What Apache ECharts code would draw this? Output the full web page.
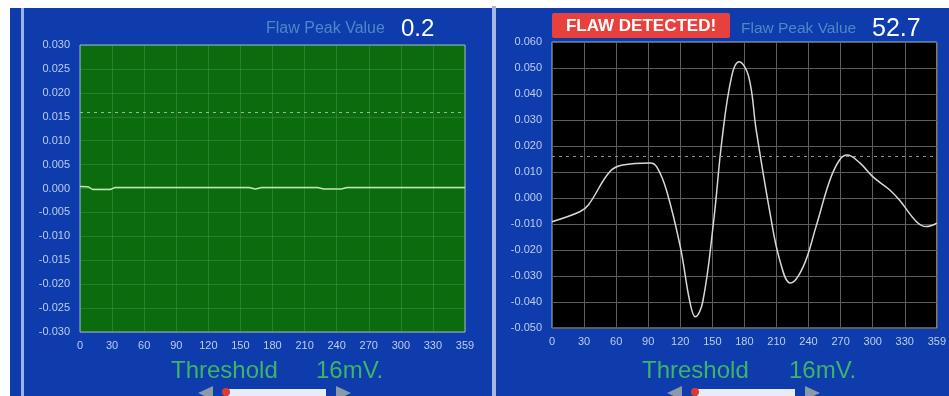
<!DOCTYPE html>
<html>
<head>
<meta charset="utf-8">
<script src="https://cdn.jsdelivr.net/npm/echarts@6/dist/echarts.min.js"></script>
<style>
  html, body { margin: 0; padding: 0; background: #fff; }
  #chart { width: 949px; height: 396px; }
</style>
</head>
<body>
<div id="chart"></div>
<script>
// angle ticks, 0..360 but the last one is printed as 359
const xTicks = [0, 30, 60, 90, 120, 150, 180, 210, 240, 270, 300, 330, 360]
const xTickLabels = ['0', '30', '60', '90', '120', '150', '180', '210', '240', '270', '300', '330', '359']

const threshold = 0.016
const leftPeak = '0.2'
const rightPeak = '52.7'

// left channel: flat trace with a few tiny dips
const leftX = [0, 8, 12, 28, 33, 158, 164, 170, 222, 228, 244, 250, 360]
const leftY = [0.0004, 0.0003, -0.0002, -0.0002, 0.0002, 0.0002, -0.0001, 0.0002, 0.0002, -0.0001, -0.0001, 0.0002, 0.0002]

// right channel: flaw signal
const rightX = [0, 26, 34, 54, 66, 92, 98, 107, 120, 129, 134, 141, 151, 159, 168, 175, 184, 191, 204, 213, 223, 235, 247, 260, 269, 276, 288, 300, 316, 325, 341, 350, 360]
const rightY = [-0.0091, -0.0053, -0.0027, 0.0101, 0.0127, 0.0135, 0.012, 0.0031, -0.0187, -0.040, -0.0457, -0.040, -0.0097, 0.0223, 0.0467, 0.0524, 0.0467, 0.0262, -0.0059, -0.0238, -0.0327, -0.0264, -0.011, 0.0069, 0.0146, 0.0165, 0.0135, 0.0082, 0.0031, -0.0008, -0.0091, -0.011, -0.0097]

const chart = echarts.init(document.getElementById('chart'))

const labelColor = '#bccbf0'
const font = 'Liberation Sans'

const gridLineColor = (gridIndex) => gridIndex === 0 ? 'rgba(120,170,120,0.3)' : '#5e5e5e'

const xAxisFor = (gridIndex) => ({
  type: 'value',
  gridIndex,
  min: 0,
  max: 360,
  interval: 30,
  axisLine: { show: false },
  axisTick: { show: false },
  axisLabel: {
    color: labelColor,
    fontSize: 11,
    fontFamily: font,
    margin: 8,
    formatter: v => xTickLabels[xTicks.indexOf(v)]
  },
  splitLine: { show: true, lineStyle: { color: gridLineColor(gridIndex), width: 1 } }
})

const yAxisFor = (gridIndex, min, max, interval) => ({
  type: 'value',
  gridIndex,
  min,
  max,
  interval,
  axisLine: { show: false },
  axisTick: { show: false },
  axisLabel: {
    color: labelColor,
    fontSize: 11,
    fontFamily: font,
    margin: 10,
    formatter: v => v.toFixed(3)
  },
  splitLine: { show: true, lineStyle: { color: gridLineColor(gridIndex), width: 1 } }
})

const thresholdLine = (color) => ({
  silent: true,
  symbol: 'none',
  precision: 4,
  label: { show: false },
  lineStyle: { color, type: [3, 4], width: 1 },
  data: [{ yAxis: threshold }]
})

// little slider widget under each panel
const slider = (x0) => [
  { type: 'polygon', shape: { points: [[x0, 393], [x0 + 15, 386], [x0 + 15, 400]] }, style: { fill: '#8a9aa8' } },
  { type: 'rect', shape: { x: x0 + 30, y: 389, width: 98, height: 8 }, style: { fill: '#e8ecf4' } },
  { type: 'circle', shape: { cx: x0 + 28, cy: 392, r: 4 }, style: { fill: '#e03a30' } },
  { type: 'polygon', shape: { points: [[x0 + 153, 393], [x0 + 138, 386], [x0 + 138, 400]] }, style: { fill: '#8a9aa8' } }
]

const txt = (text, left, top, size, color) => ({
  text, left, top,
  textStyle: { color, fontSize: size, fontWeight: 'normal', fontFamily: font }
})

const option = {
  backgroundColor: '#ffffff',
  animation: false,
  graphic: [
    { type: 'rect', z: -10, shape: { x: 10, y: 8, width: 939, height: 388 }, style: { fill: '#0f3cad' } },
    { type: 'rect', z: -5, shape: { x: 21, y: 8, width: 3, height: 388 }, style: { fill: '#9db2e0' } },
    { type: 'rect', z: -5, shape: { x: 492, y: 6, width: 4, height: 390 }, style: { fill: '#a6b8e2' } },
    { type: 'rect', z: -5, shape: { x: 482, y: 0, width: 467, height: 6 }, style: { fill: '#ffffff' } },
    { type: 'rect', shape: { x: 552, y: 13, width: 178, height: 25, r: 2 }, style: { fill: '#e8413d' } },
    {
      type: 'text', x: 641, y: 26,
      style: { text: 'FLAW DETECTED!', fill: '#ffffff', font: 'bold 17px "Liberation Sans"', align: 'center', verticalAlign: 'middle' }
    },
    ...slider(198),
    ...slider(667)
  ],
  title: [
    txt('Flaw Peak Value', 261, 16, 16, '#4f86c6'),
    txt(leftPeak, 396, 12, 24, '#ffffff'),
    txt('Flaw Peak Value', 736, 16, 15.5, '#4f86c6'),
    txt(rightPeak, 867, 12, 25, '#ffffff'),
    txt('Threshold', 166, 354, 24, '#3db468'),
    txt('16mV.', 311, 354, 24, '#3db468'),
    txt('Threshold', 637, 354, 24, '#3db468'),
    txt('16mV.', 784, 354, 24, '#3db468')
  ],
  grid: [
    { left: 80, top: 45, width: 385, height: 287, show: true, backgroundColor: '#0a6c0c', borderColor: '#9fb2d6', borderWidth: 1 },
    { left: 552, top: 42, width: 385, height: 286, show: true, backgroundColor: '#000000', borderColor: '#9fb2d6', borderWidth: 1 }
  ],
  xAxis: [xAxisFor(0), xAxisFor(1)],
  yAxis: [
    yAxisFor(0, -0.03, 0.03, 0.005),
    yAxisFor(1, -0.05, 0.06, 0.01)
  ],
  series: [
    {
      type: 'line',
      xAxisIndex: 0,
      yAxisIndex: 0,
      data: leftX.map((x, i) => [x, leftY[i]]),
      smooth: 0.3,
      showSymbol: false,
      lineStyle: { color: '#bfe6b4', width: 1.5 },
      markLine: thresholdLine('#8fc08a')
    },
    {
      type: 'line',
      xAxisIndex: 1,
      yAxisIndex: 1,
      data: rightX.map((x, i) => [x, rightY[i]]),
      smooth: 0.4,
      showSymbol: false,
      lineStyle: { color: '#d8d8d8', width: 1.5 },
      markLine: thresholdLine('#9a8aa0')
    }
  ]
}

chart.setOption(option)
</script>
</body>
</html>
